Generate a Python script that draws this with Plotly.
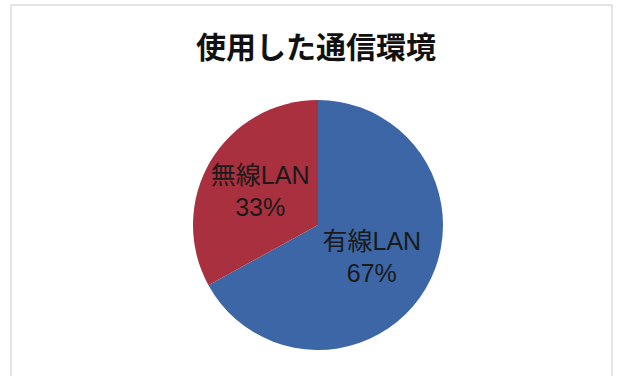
import plotly.graph_objects as go

# Connection type survey
labels = ["有線LAN", "無線LAN"]
values = [67, 33]
colors = ["#3c66a6", "#a9303e"]
title_text = "使用した通信環境"

W, H = 632, 376
cx, cy, r = 318, 225, 125

fig = go.Figure(
    go.Pie(
        labels=labels,
        values=values,
        sort=False,
        direction="clockwise",
        rotation=0,
        marker=dict(colors=colors, line=dict(width=0)),
        texttemplate="%{label}<br>%{percent:.0%}",
        textposition="inside",
        insidetextorientation="horizontal",
        textfont=dict(family="Liberation Sans, Noto Sans CJK JP", size=25, color="#1a1a1a"),
        hoverinfo="skip",
        showlegend=False,
        domain=dict(
            x=[(cx - r) / W, (cx + r) / W],
            y=[1 - (cy + r) / H, 1 - (cy - r) / H],
        ),
    )
)

fig.update_layout(
    width=W,
    height=H,
    margin=dict(l=0, r=0, t=0, b=0),
    paper_bgcolor="white",
    uniformtext=dict(minsize=25, mode="show"),
    title=dict(
        text="<b>" + title_text + "</b>",
        x=316 / W,
        xanchor="center",
        y=1 - 47 / H,
        yanchor="middle",
        font=dict(family="Noto Sans CJK JP", size=30, color="#111111"),
    ),
    shapes=[
        dict(
            type="rect",
            xref="paper",
            yref="paper",
            x0=11 / W,
            x1=612 / W,
            y0=-0.05,
            y1=1 - 5 / H,
            line=dict(color="#c8c8c8", width=1),
            fillcolor="rgba(0,0,0,0)",
            layer="below",
        )
    ],
)

fig.write_html("out.html")
